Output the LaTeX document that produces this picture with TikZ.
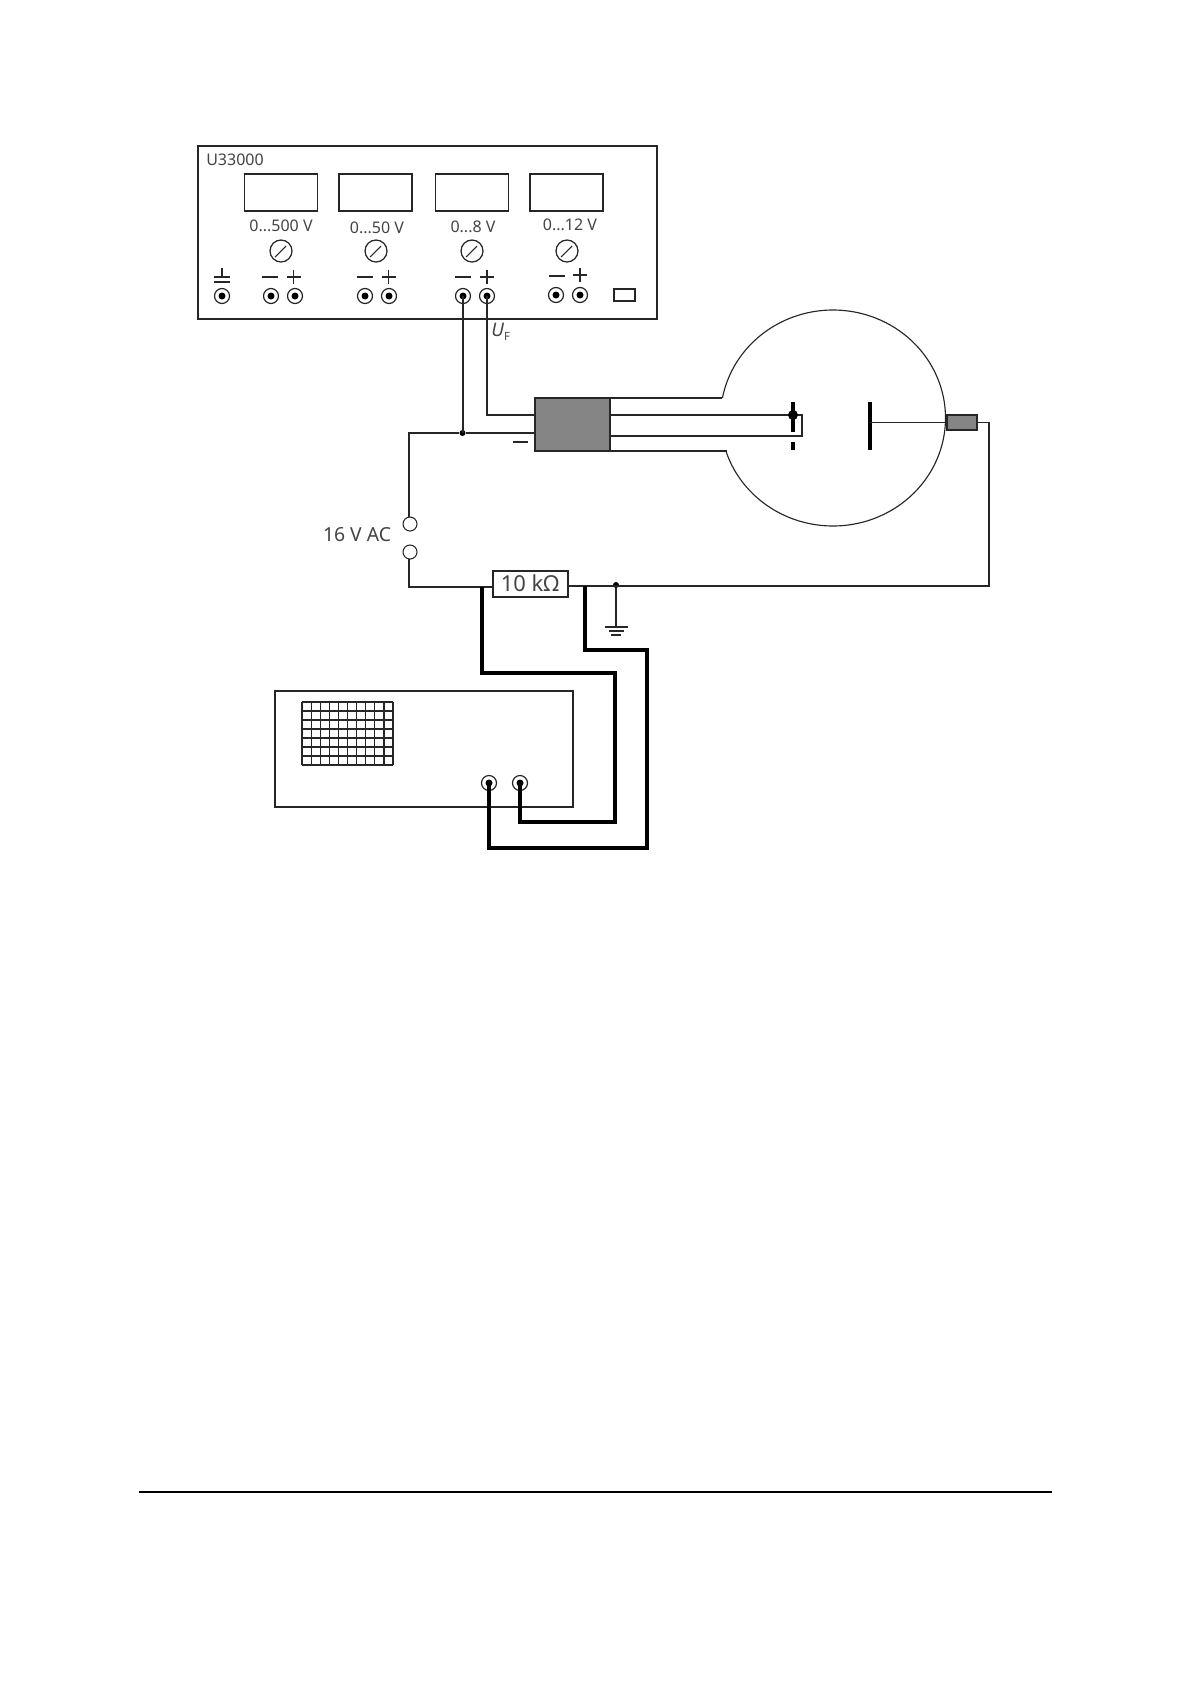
\documentclass[tikz,border=0pt]{standalone}
\usepackage{fontspec}
\setmainfont{Noto Sans}
\definecolor{txt}{HTML}{444444}
\definecolor{fillgray}{HTML}{858585}
\tikzset{
  wire/.style={line width=0.95pt,black!85,line join=miter},
  thick wire/.style={line width=3pt,black,line join=miter},
  boxwh/.style 2 args={draw=black!85,line width=0.95pt,fill=white,inner sep=0pt,outer sep=0pt,minimum width=#1*0.75pt,minimum height=#2*0.75pt},
  jack/.style={circle,draw=black!85,line width=0.9pt,fill=white,inner sep=0pt,outer sep=0pt,minimum size=15*0.75pt},
  jackdot/.style={circle,fill=black,inner sep=0pt,minimum size=7*0.75pt},
  knob/.style={circle,draw=black!85,line width=0.95pt,inner sep=0pt,minimum size=22*0.75pt},
  term/.style={circle,draw=black!85,line width=0.8pt,fill=white,inner sep=0pt,outer sep=0pt,minimum size=14*0.75pt},
  junction/.style={circle,fill=black,inner sep=0pt,minimum size=6*0.75pt},
  lab/.style={text=txt,inner sep=0pt,font=\fontsize{12pt}{14pt}\selectfont},
  biglab/.style={text=txt,inner sep=0pt,font=\fontsize{14.5pt}{16pt}\selectfont},
}
\begin{document}
\begin{tikzpicture}[x=0.75pt,y=-0.75pt]
\path[fill=white] (0,0) rectangle (1191,1685);
\useasboundingbox (0,0) rectangle (1191,1685);

% power supply
\node[boxwh={459}{173},line width=1.2pt] (psu) at (427.5,232.5) {};
\node[lab,anchor=west] (psuname) at (206,160) {U33000};
\foreach \n/\x in {d1/281,d2/375.5,d3/472,d4/566.5}
  \node[boxwh={73}{37}] (\n) at (\x,192.5) {};
\node[lab] (l1) at (281,226) {0...500 V};
\node[lab] (l2) at (377,227.5) {0...50 V};
\node[lab] (l3) at (473,227) {0...8 V};
\node[lab] (l4) at (570,225) {0...12 V};
\foreach \n/\x in {k1/281,k2/376,k3/472,k4/567}{
  \node[knob] (\n) at (\x,251) {};
  \draw[wire,line width=0.8pt] (\n.center)+(-6,6) -- +(5,-5);
}
\foreach \n/\x/\y in {jg/222/296,j1m/271/296,j1p/295/296,j2m/365/296,j2p/389/296,j3m/463/296,j3p/487/296,j4m/556/295,j4p/580/295}{
  \node[jack] (\n) at (\x,\y) {};
  \node[jackdot] (\n-d) at (\n) {};
}
% polarity signs
\foreach \x/\y in {270/277,365/277,463/277,557/276}
  \draw[wire,line width=1.1pt] (\x-8,\y) -- (\x+8,\y);
\foreach \x/\y in {293.5/277,388.5/277,487/277,580/275}{
  \draw[wire,line width=1.1pt] (\x-7,\y) -- (\x+7,\y);
  \draw[wire,line width=1.1pt] (\x,\y-7) -- (\x,\y+7);
}
% earth symbol
\draw[wire] (214,277) -- (230,277);
\draw[wire] (214,282) -- (230,282);
\draw[wire] (222,268) -- (222,277);
\node[boxwh={21}{12}] (sw) at (624.5,295) {};

% bulb
\draw[wire,line width=0.85pt] plot[domain=190.7:522.2,samples=140,smooth] ({833+112.5*cos(\x)},{418+108*sin(\x)});
\node[boxwh={75}{53},fill=fillgray] (base) at (572.5,424.5) {};
\coordinate (neckTL) at (722,398);
\coordinate (neckBL) at (727,451);
\draw[wire] (base.north east) -- (neckTL);
\draw[wire] (base.south east) -- (neckBL);
\coordinate (fa) at (793,415);
\coordinate (fb) at (802,415);
\coordinate (fc) at (802,436);
\draw[wire] (610,415) -- (fa) -- (fb) -- (fc) -- (610,436);
\draw[line width=3.4pt] (793,402) -- (793,432);
\draw[line width=3.4pt] (793,442) -- (793,450);
\node[junction,minimum size=10*0.75pt] (fj) at (fa) {};
\draw[line width=3.4pt] (870,402) -- (870,450);
\node[boxwh={30}{15},fill=fillgray] (conn) at (962,422.5) {};
\draw[wire] (870,422.5) -- (conn.west);

% heater and mains
\node[junction] (nj) at (462.5,433) {};
\node[term] (t1) at (410,524) {};
\node[term] (t2) at (410,552) {};
\node[boxwh={75}{26}] (res) at (530.5,584) {};
\node[junction] (gj) at (616,585) {};
\coordinate (gnd) at (616,627);
\coordinate (rt) at (989,586);
\coordinate (rtop) at (989,422.5);
\draw[wire] (j3m.center) -- (j3m.center |- nj);
\draw[wire] (j3p.center) -- (487,415) -- (535,415);
\draw[wire] (535,433) -- (nj) -- (409,433) -- (409,517);
\draw[wire] (409,559) -- (409,587) -- (493,587);
\draw[wire] (568,586) -- (rt) -- (rtop) -- (conn.east |- rtop);
\draw[wire] (gj) -- (gnd);
\draw[wire] (605,627) -- (628,627);
\draw[wire] (609,631) -- (624,631);
\draw[wire] (611,635) -- (621,635);
\draw[wire,line width=1.1pt] (513,442) -- (528,442);

% labels
\node[biglab] (ac) at (357,535) {16 V AC};
\node[text=txt,inner sep=0pt,font=\fontsize{16.5pt}{18pt}\selectfont] (rl) at (530,583.5) {10 kΩ};
\node[text=txt,inner sep=0pt,anchor=west,font=\fontsize{14pt}{16pt}\selectfont] (uf) at (491,332) {\textit{U}\raisebox{-3pt}{\fontsize{8.5pt}{9pt}\selectfont F}};

% oscilloscope
\node[boxwh={298}{116}] (scope) at (424,749) {};
\foreach \i in {0,...,10}
  \draw[wire,line width=0.9pt] (302+\i*9.1,702) -- (302+\i*9.1,765);
\foreach \i in {0,...,7}
  \draw[wire,line width=0.9pt] (302,702+\i*9) -- (393,702+\i*9);
\foreach \n/\x in {s1/489,s2/520}{
  \node[jack] (\n) at (\x,783) {};
  \node[jackdot] (\n-d) at (\n) {};
}
% probe leads
\draw[thick wire] (482,587) -- (482,673) -- (615,673) -- (615,822) -- (520,822) -- (s2.center);
\draw[thick wire] (585,586) -- (585,650) -- (647,650) -- (647,848) -- (489,848) -- (s1.center);

% footer rule
\draw[line width=1pt] (139,1492) -- (1052,1492);
\end{tikzpicture}
\end{document}
